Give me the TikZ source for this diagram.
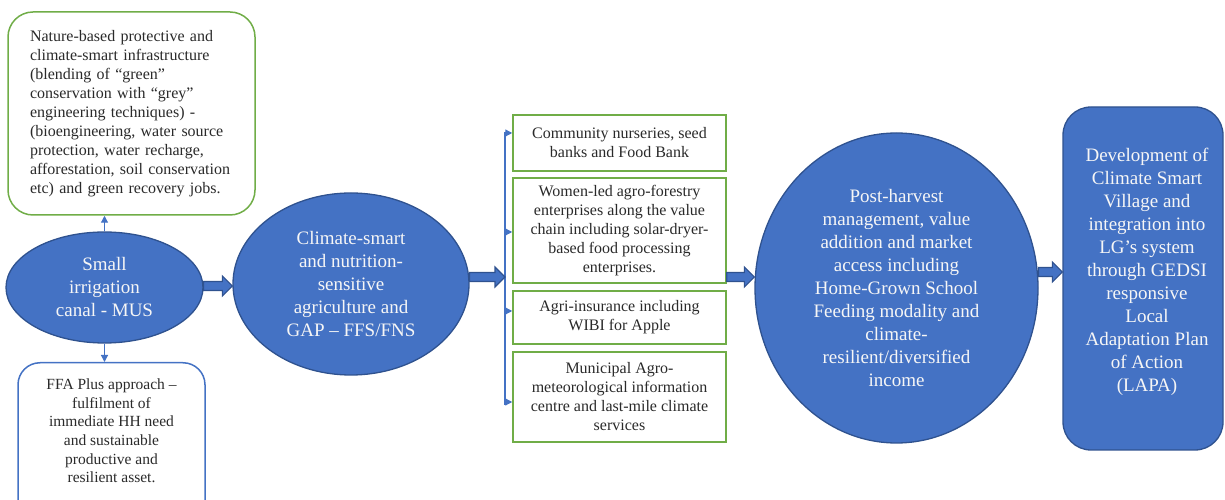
\documentclass[tikz,border=0pt]{standalone}
\usepackage{fontspec}
\setmainfont{Liberation Serif}
\usetikzlibrary{shapes.geometric,arrows.meta,calc}
\definecolor{fillblue}{HTML}{4472C4}
\definecolor{edgeblue}{HTML}{2F528F}
\definecolor{leafgreen}{HTML}{70AD47}
\definecolor{inkgray}{HTML}{2A2A2A}
\definecolor{paleink}{HTML}{F6F6F6}

% thick outlined block arrow between two points (tip at the second)
\newcommand\blockarrow[2]{%
  \draw[barrow] let \p1=(#1), \p2=(#2) in
    (\x1,\y1+4.5pt) -- (\x2-10pt,\y1+4.5pt) -- (\x2-10pt,\y1+10pt) -- (\x2,\y1)
    -- (\x2-10pt,\y1-10pt) -- (\x2-10pt,\y1-4.5pt) -- (\x1,\y1-4.5pt) -- cycle;}

\begin{document}
\begin{tikzpicture}[x=1pt,y=1pt,
  hub/.style={ellipse, draw=edgeblue, line width=1.3pt, fill=fillblue,
    inner sep=0pt, text=paleink, align=center, font=\fontsize{19}{23}\selectfont},
  bluetext/.style={text=paleink, align=center, font=\fontsize{19}{23}\selectfont},
  greenround/.style={draw=leafgreen, line width=1.5pt, rounded corners=25pt,
    fill=white, text=inkgray, font=\fontsize{16}{19}\selectfont},
  blueround/.style={draw=fillblue, line width=1.5pt, rounded corners=22pt, fill=white},
  greenbox/.style={draw=leafgreen, line width=1.5pt, fill=white, text=inkgray,
    align=center, inner sep=0pt, minimum width=213pt,
    font=\fontsize{16}{19}\selectfont},
  lapabox/.style={draw=edgeblue, line width=1.3pt, fill=fillblue, rounded corners=28pt},
  barrow/.style={fill=fillblue, draw=edgeblue, line width=1.1pt, line join=miter},
  tarrow/.style={draw=fillblue, line width=1.2pt, -{Triangle[length=7pt,width=7pt]}},
  bracketline/.style={draw=fillblue, line width=1.2pt}
]
\useasboundingbox (0,0) rectangle (1225,500);
\clip (0,0) rectangle (1225,500);

% left column
\node[greenround, minimum width=247pt, minimum height=203pt, text width=203pt,
  align=left, inner sep=0pt] (nature) at (131.5,386.5)
  {Nature-based protective and\\ climate-smart infrastructure\\ (blending of “green”\\
   conservation with “grey”\\ engineering techniques) -\\ (bioengineering, water source\\
   protection, water recharge,\\ afforestation, soil conservation\\ etc) and green recovery jobs.};

\node[hub, minimum width=197pt, minimum height=111pt] (canal) at (104.5,212.5)
  {Small\\ irrigation\\ canal - MUS};

\node[blueround, minimum width=187pt, minimum height=170pt, anchor=north] (ffa) at (111.5,138) {};
\node[text=inkgray, align=center, font=\fontsize{15.5}{18.6}\selectfont] (ffatxt) at (111.5,69)
  {FFA Plus approach –\\ fulfilment of\\ immediate HH need\\ and sustainable\\ productive and\\ resilient asset.};

\draw[tarrow] (canal.north) -- (canal.north |- nature.south);
\draw[tarrow] (canal.south) -- (canal.south |- ffa.north);

% second hub
\node[hub, minimum width=236pt, minimum height=182pt] (csa) at (351,216)
  {Climate-smart\\ and nutrition-\\ sensitive\\ agriculture and\\ GAP – FFS/FNS};

\coordinate (a1s) at ([yshift=1.5pt]canal.east);
\blockarrow{a1s}{a1s -| csa.west}

% bracket of activities
\coordinate (brtop) at (505,368);
\coordinate (brbot) at (505,95);
\draw[bracketline] (brtop) -- (brbot);

\node[greenbox, minimum height=56pt] (nursery) at (619.5,357)
  {Community nurseries, seed\\ banks and Food Bank};
\node[greenbox, minimum height=105pt] (women) at (619.5,269.5)
  {Women-led agro-forestry\\ enterprises along the value\\ chain including solar-dryer-\\ based food processing\\ enterprises.};
\node[greenbox, minimum height=53pt] (insure) at (619.5,182.5)
  {Agri-insurance including\\ WIBI for Apple};
\node[greenbox, minimum height=90pt] (agromet) at (619.5,103)
  {Municipal Agro-\\ meteorological information\\ centre and last-mile climate\\ services};

\draw[tarrow] ([yshift=10pt]nursery.west -| brtop) -- ([yshift=10pt]nursery.west);
\draw[tarrow] ([yshift=-1.5pt]women.west -| brtop) -- ([yshift=-1.5pt]women.west);
\draw[tarrow] ([yshift=6.5pt]insure.west -| brtop) -- ([yshift=6.5pt]insure.west);
\draw[tarrow] ([yshift=-5pt]agromet.west -| brtop) -- ([yshift=-5pt]agromet.west);

\coordinate (a2s) at ([yshift=7pt]csa.east);
\blockarrow{a2s}{a2s -| brtop}

% third hub
\node[hub, minimum width=283pt, minimum height=310pt] (market) at (896.5,212)
  {Post-harvest\\ management, value\\ addition and market\\ access including\\ Home-Grown School\\ Feeding modality and\\ climate-\\ resilient/diversified\\ income};

\coordinate (a3s) at ([yshift=-46.5pt]women.east);
\blockarrow{a3s}{a3s -| market.west}

% final outcome
\node[lapabox, minimum width=160pt, minimum height=343pt] (lapa) at (1143,221.5) {};
\node[bluetext] (lapatxt) at (1147,228)
  {Development of\\ Climate Smart\\ Village and\\ integration into\\ LG’s system\\ through GEDSI\\ responsive\\ Local\\ Adaptation Plan\\ of Action\\ (LAPA)};

\coordinate (a4s) at ([yshift=16pt]market.east);
\blockarrow{a4s}{a4s -| lapa.west}
\end{tikzpicture}
\end{document}
